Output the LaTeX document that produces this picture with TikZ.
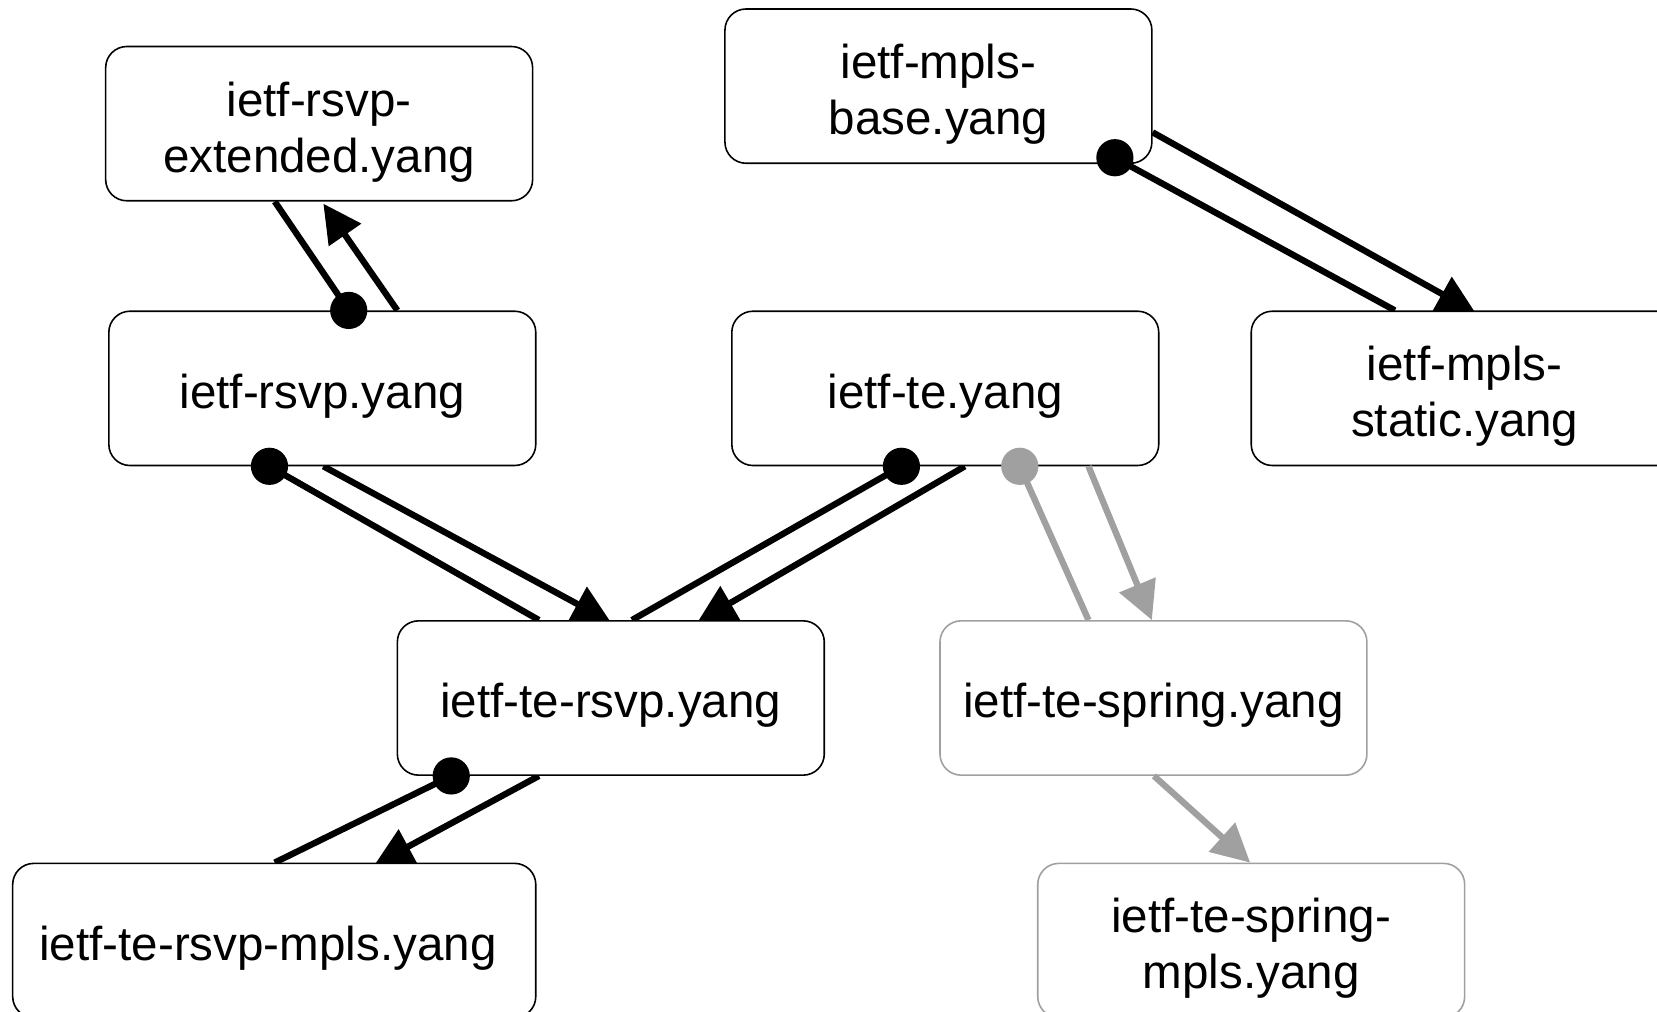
\documentclass[tikz,border=0pt]{standalone}
\usepackage{fontspec}
\setmainfont{Liberation Sans}
\usetikzlibrary{arrows.meta,calc,backgrounds}
\definecolor{lgray}{HTML}{A0A0A0}
\tikzset{
  mod/.style={draw=black, rounded corners=10pt, minimum width=202pt, minimum height=73pt,
    align=center, font=\fontsize{22.5}{26.5}\selectfont, line width=0.75pt, fill=white, inner sep=0pt,
    execute at begin node={\rule{0pt}{23.5pt}}},
  twol/.style={execute at begin node={\rule{0pt}{50.5pt}}},
  grmod/.style={mod, draw=lgray},
  dep/.style={line width=3pt, -{Triangle[length=18pt,width=18pt]}},
  usel/.style={line width=3pt},
}
\begin{document}
\begin{tikzpicture}[x=0.5pt,y=-0.5pt]
\useasboundingbox (0,0) rectangle (1568,957.6);
\clip (0,0) rectangle (1568,957.6);
% nodes
\node[mod, twol] (rsvpext) at (302,117) {ietf-rsvp-\\extended.yang};
\node[mod, twol] (mplsbase) at (888,81.5) {ietf-mpls-\\base.yang};
\node[mod] (rsvp) at (305,367.5) {ietf-rsvp.yang};
\node[mod] (te) at (894.5,367.5) {ietf-te.yang};
\node[mod, twol] (mplsstatic) at (1386,367.5) {ietf-mpls-\\static.yang};
\node[mod] (tersvp) at (578,660.5) {ietf-te-rsvp.yang};
\node[grmod] (tespring) at (1091.5,660.5) {ietf-te-spring.yang};
\node[mod, minimum width=247.5pt] (tersvpmpls) at (259.5,890) {ietf-te-rsvp-mpls.yang\hspace*{6pt}};
\node[grmod, twol] (tespringmpls) at (1184,890) {ietf-te-spring-\\mpls.yang};
% connectors
\begin{scope}[on background layer]
  % rsvp <-> rsvp-extended
  \draw[usel] ($(rsvp.north)+(25,0)$) coordinate (d1) -- ($(rsvpext.south)+(-42,0)$);
  \draw[dep] ($(rsvp.north)+(71,0)$) -- ($(rsvpext.south)+(4,2)$);
  % mpls-base -> mpls-static
  \draw[usel] ($(mplsbase.south)+(167,-6)$) coordinate (d2) -- ($(mplsstatic.north)+(-66,0)$);
  \draw[dep] ($(mplsbase.south east)+(0,-30)$) -- ($(mplsstatic.north)+(10,2)$);
  % rsvp -> te-rsvp
  \draw[usel] ($(rsvp.south)+(-50,0)$) coordinate (d3) -- ($(tersvp.north)+(-68,0)$);
  \draw[dep] ($(rsvp.south)+(1,0)$) -- ($(tersvp.north)+(0,2)$);
  % te -> te-rsvp
  \draw[usel] ($(te.south)+(-41.5,0)$) coordinate (d4) -- ($(tersvp.north)+(20,0)$);
  \draw[dep] ($(te.south)+(18.5,0)$) -- ($(tersvp.north)+(82,2)$);
  % te-rsvp -> te-rsvp-mpls
  \draw[usel] ($(tersvp.south)+(-151,0)$) coordinate (d5) -- ($(tersvpmpls.north)+(0.5,0)$);
  \draw[dep] ($(tersvp.south)+(-68,0)$) -- ($(tersvpmpls.north)+(95,2)$);
\end{scope}
% gray connectors (tips on the box edge)
\draw[usel, lgray] ($(te.south)+(70.5,0)$) coordinate (d6) -- ($(tespring.north)+(-61.5,0)$);
\draw[dep, lgray] ($(te.south)+(135.5,0)$) -- ($(tespring.north)+(-1.5,0)$);
\draw[dep, lgray] ($(tespring.south)+(0.5,0)$) -- ($(tespringmpls.north)+(-1,0)$);
% dots
\fill (d1) circle (8.8pt);
\fill (d2) circle (8.8pt);
\fill (d3) circle (8.8pt);
\fill (d4) circle (8.8pt);
\fill (d5) circle (8.8pt);
\fill[lgray] (d6) circle (8.8pt);
\end{tikzpicture}
\end{document}
